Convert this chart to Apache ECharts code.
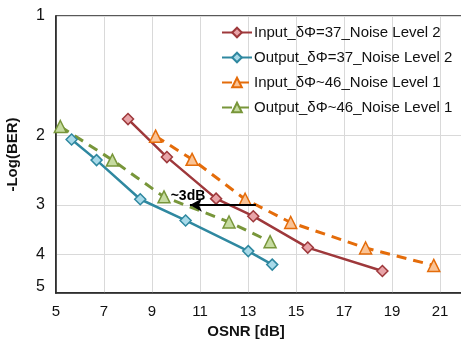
<!DOCTYPE html>
<html>
<head>
<meta charset="utf-8">
<script src="https://cdn.jsdelivr.net/npm/echarts@6/dist/echarts.min.js"></script>
<style>
  html, body { margin: 0; padding: 0; background: #fff; }
  #chart { width: 461px; height: 340px; }
</style>
</head>
<body>
<div id="chart"></div>
<script>
// OSNR [dB] vs -Log(BER)
const xTicks = [5, 7, 9, 11, 13, 15, 17, 19, 21]
const yTicks = [1, 2, 3, 4, 5]

const in37X = [8.0, 9.62, 11.67, 13.22, 15.49, 18.6]
const in37Y = [1.82, 2.27, 2.89, 3.20, 3.84, 4.40]

const out37X = [5.65, 6.69, 8.51, 10.40, 13.01, 14.01]
const out37Y = [2.05, 2.31, 2.90, 3.28, 3.92, 4.24]

const in46X = [9.15, 10.67, 12.88, 14.78, 17.90, 20.74]
const in46Y = [2.01, 2.30, 2.90, 3.32, 3.85, 4.26]

const out46X = [5.18, 7.35, 9.5, 12.21, 13.92]
const out46Y = [1.90, 2.31, 2.86, 3.31, 3.71]

// ~3dB arrow
const arrowFrom = [13.33, 3]
const arrowTo = [10.58, 3]
const arrowText = '~3dB'
const arrowTextAt = [10.5, 2.84]

const font = 'Liberation Sans, Arial, sans-serif'

const pairs = (xs, ys) => xs.map((x, i) => [x, ys[i]])

// 线条 + 标记样式
const makeSeries = (name, xs, ys, color, fill, symbol, dashed) => ({
  name,
  type: 'line',
  data: pairs(xs, ys),
  symbol,
  symbolSize: symbol === 'diamond' ? 11 : 12,
  showAllSymbol: true,
  lineStyle: {
    color,
    width: dashed ? 3 : 2.5,
    type: dashed ? [10, 7] : 'solid',
  },
  itemStyle: {
    color: fill,
    borderColor: color,
    borderWidth: 1.5,
  },
  emphasis: { disabled: true },
  z: 3,
})

const chart = echarts.init(document.getElementById('chart'), null, { renderer: 'canvas' })

const seriesList = [
  makeSeries('Input_δΦ=37_Noise Level 2', in37X, in37Y, '#9E383B', '#E8A4A8', 'diamond', false),
  makeSeries('Output_δΦ=37_Noise Level 2', out37X, out37Y, '#2F88A0', '#A8DAE9', 'diamond', false),
  makeSeries('Input_δΦ~46_Noise Level 1', in46X, in46Y, '#E46C0A', '#FAC395', 'triangle', true),
  makeSeries('Output_δΦ~46_Noise Level 1', out46X, out46Y, '#78963A', '#C6DBA0', 'triangle', true),
]

// 注释箭头
seriesList[3].markLine = {
  silent: true,
  symbol: ['none', 'arrow'],
  symbolSize: [10, 12],
  label: { show: false },
  lineStyle: { color: '#000', width: 2, type: 'solid' },
  data: [[{ coord: arrowFrom }, { coord: arrowTo }]],
}
seriesList[3].markPoint = {
  silent: true,
  symbol: 'rect',
  symbolSize: 1,
  itemStyle: { color: 'rgba(0,0,0,0)' },
  label: {
    show: true,
    position: 'inside',
    formatter: arrowText,
    fontFamily: font,
    fontWeight: 'bold',
    fontSize: 14,
    color: '#000',
  },
  data: [{ coord: arrowTextAt }],
}

const option = {
  animation: false,
  backgroundColor: '#fff',
  grid: {
    left: 56,
    right: -3,
    top: 16,
    bottom: 47,
    outerBoundsMode: 'none',
    show: true,
    borderColor: '#222',
    borderWidth: 1.5,
  },
  legend: {
    orient: 'vertical',
    left: 221,
    top: 25,
    padding: 0,
    itemWidth: 30,
    itemHeight: 12,
    itemGap: 10,
    textStyle: { fontFamily: font, fontSize: 15, color: '#111', padding: [0, 0, 0, -3] },
    data: seriesList.map(s => s.name),
  },
  xAxis: {
    type: 'value',
    min: 5,
    max: 22,
    name: 'OSNR [dB]',
    nameLocation: 'middle',
    nameGap: 29,
    nameTextStyle: { fontFamily: font, fontWeight: 'bold', fontSize: 15, color: '#111', padding: [0, 28, 0, 0] },
    axisLine: { show: true, lineStyle: { color: '#222', width: 1.5 } },
    axisTick: { show: false, customValues: xTicks },
    axisLabel: { customValues: xTicks, fontFamily: font, fontSize: 15, color: '#111', margin: 11 },
    splitLine: { show: true, lineStyle: { color: '#d9d9d9', width: 1 } },
  },
  yAxis: {
    type: 'log',
    logBase: 10,
    inverse: true,
    min: 1,
    max: 5,
    name: '-Log(BER)',
    nameLocation: 'middle',
    nameRotate: 90,
    nameGap: 36,
    nameTextStyle: { fontFamily: font, fontWeight: 'bold', fontSize: 15, color: '#111' },
    axisLine: { show: true, lineStyle: { color: '#222', width: 1.5 } },
    axisTick: { show: false, customValues: yTicks },
    axisLabel: {
      customValues: yTicks,
      fontFamily: font,
      fontSize: 16,
      color: '#111',
      margin: 11,
      formatter: v => (v === 5 ? '{u|5}' : String(v)),
      rich: { u: { fontFamily: font, fontSize: 16, color: '#111', padding: [0, 0, 12, 0] } },
    },
    splitLine: { show: true, lineStyle: { color: '#d9d9d9', width: 1 } },
  },
  series: seriesList,
}

chart.setOption(option)
</script>
</body>
</html>
